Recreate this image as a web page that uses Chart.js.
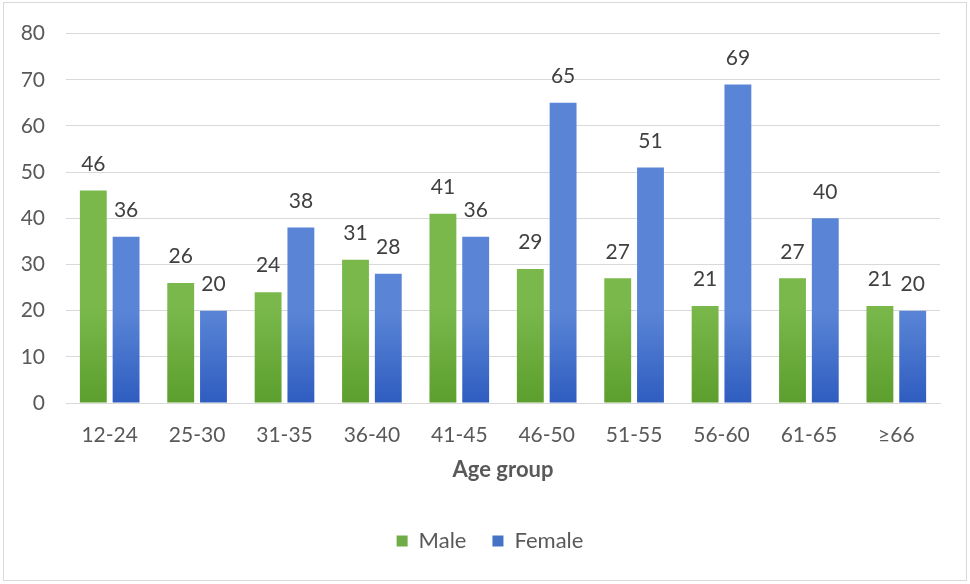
<!DOCTYPE html>
<html>
<head>
<meta charset="utf-8">
<script src="https://cdn.jsdelivr.net/npm/chart.js@4"></script>
<style>
  html, body { margin: 0; padding: 0; background: #fff; }
  #wrap { width: 970px; height: 584px; }
</style>
</head>
<body>
<div id="wrap"><canvas id="Chart" width="970" height="584"></canvas></div>
<script>
const AGE_GROUPS = ['12-24', '25-30', '31-35', '36-40', '41-45', '46-50', '51-55', '56-60', '61-65', '≥66'];
const MALE = [46, 26, 24, 31, 41, 29, 27, 21, 27, 21];
const FEMALE = [36, 20, 38, 28, 36, 65, 51, 69, 40, 20];
const Y_TICKS = [0, 10, 20, 30, 40, 50, 60, 70, 80];

const FONT = 'Lato, "Open Sans", sans-serif';
const TEXT = '#595959';

// office-like vertical gradient per bar
const GRADS = [['#7ab84c', '#5c9f2e'], ['#5a85d6', '#2f5dc0']];
const barGradient = {
    id: 'barGradient',
    beforeDatasetsDraw(chart) {
        const ctx = chart.ctx;
        chart.data.datasets.forEach((ds, i) => {
            chart.getDatasetMeta(i).data.forEach(bar => {
                const g = ctx.createLinearGradient(0, bar.y, 0, bar.base);
                g.addColorStop(0, GRADS[i][0]);
                g.addColorStop(1, GRADS[i][1]);
                bar.options.backgroundColor = g;
            });
        });
    }
};

const valueLabels = {
    id: 'valueLabels',
    afterDatasetsDraw(chart) {
        const ctx = chart.ctx;
        ctx.save();
        ctx.font = '21px ' + FONT;
        ctx.fillStyle = '#404040';
        ctx.textAlign = 'center';
        ctx.textBaseline = 'bottom';
        chart.data.datasets.forEach((ds, i) => {
            chart.getDatasetMeta(i).data.forEach((bar, j) => {
                ctx.fillText(ds.data[j], bar.x, bar.y - 16);
            });
        });
        ctx.restore();
    }
};

// legend sits a little right of the canvas centre in the original
const legendShift = {
    id: 'legendShift',
    afterLayout(chart) {
        chart.legend.left += 20;
        chart.legend.right += 20;
    }
};

const frame = {
    id: 'frame',
    beforeDraw(chart) {
        const ctx = chart.ctx;
        ctx.save();
        ctx.fillStyle = '#fff';
        ctx.fillRect(0, 0, chart.width, chart.height);
        ctx.strokeStyle = '#d9d9d9';
        ctx.lineWidth = 1;
        ctx.strokeRect(3.5, 2.5, 963, 578);
        ctx.restore();
    }
};

const data = {
    labels: AGE_GROUPS,
    datasets: [
        { label: 'Male', data: MALE, backgroundColor: '#70ad47' },
        { label: 'Female', data: FEMALE, backgroundColor: '#4472c4' }
    ]
};

const config = {
    type: 'bar',
    data,
    options: {
        responsive: false,
        animation: false,
        layout: { padding: { top: 28, right: 30, bottom: 22, left: 0 } },
        datasets: {
            bar: { categoryPercentage: 0.75, barPercentage: 0.82 }
        },
        scales: {
            x: {
                grid: { display: false, drawTicks: false },
                border: { display: true, color: '#d9d9d9' },
                ticks: { color: TEXT, font: { family: FONT, size: 21 }, padding: 20 },
                title: {
                    display: true, text: 'Age group', color: TEXT,
                    font: { family: FONT, size: 22, weight: 'bold' },
                    padding: { top: 8, bottom: 21 }
                },
                afterFit(scale) { scale.height = 101; }
            },
            y: {
                min: 0, max: 80,
                afterBuildTicks(scale) { scale.ticks = Y_TICKS.map(v => ({ value: v })); },
                grid: { color: '#d9d9d9', drawTicks: false },
                border: { display: false },
                ticks: { color: TEXT, font: { family: FONT, size: 21 }, padding: 21 },
                afterFit(scale) { scale.width = 66; }
            }
        },
        plugins: {
            legend: {
                position: 'bottom',
                labels: {
                    color: TEXT, font: { family: FONT, size: 22 },
                    boxWidth: 11, boxHeight: 11, padding: 26,
                    generateLabels(chart) {
                        return chart.data.datasets.map((ds, i) => ({
                            text: ds.label, fillStyle: ds.backgroundColor,
                            strokeStyle: ds.backgroundColor, lineWidth: 0,
                            fontColor: TEXT, datasetIndex: i, hidden: false
                        }));
                    }
                }
            },
            tooltip: { enabled: false }
        }
    },
    plugins: [frame, barGradient, valueLabels, legendShift]
};

const myChart = new Chart(document.getElementById('Chart'), config);
</script>
</body>
</html>
